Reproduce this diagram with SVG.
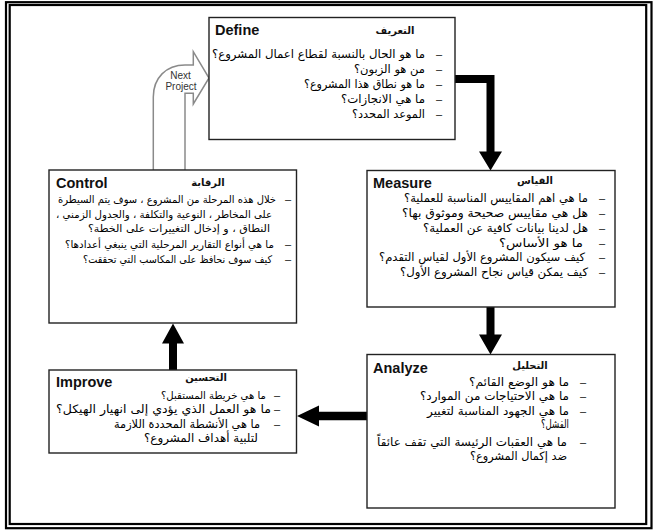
<svg xmlns="http://www.w3.org/2000/svg" width="655" height="532" viewBox="0 0 655 532">
<style>
.frame{fill:none;stroke:#000;stroke-width:2.2}
.box{fill:#fff;stroke:#222;stroke-width:1.4}
.en{font-family:"Liberation Sans",Arial,sans-serif;font-weight:bold;font-size:14.5px;fill:#111}
.ar{font-family:"DejaVu Sans",sans-serif;font-size:11.5px;text-anchor:end;fill:#000}
.arc{font-family:"DejaVu Sans",sans-serif;font-size:10.4px;text-anchor:end;fill:#000}
.art{font-family:"DejaVu Sans",sans-serif;font-size:10px;font-weight:bold;text-anchor:middle;fill:#111}
.dash{font-family:"Liberation Sans",Arial,sans-serif;font-size:11px;text-anchor:middle;fill:#111}
.thick{fill:#000;stroke:none}
.np{fill:#fff;stroke:#8a8a8a;stroke-width:1.5}
.npt{font-family:"Liberation Sans",Arial,sans-serif;font-size:10px;text-anchor:middle;fill:#333}
</style>
<rect width="655" height="532" fill="#fff"/>
<rect class="frame" x="6" y="2.2" width="645.5" height="526"/>
<rect class="frame" x="9.7" y="5" width="636.5" height="519"/>

<g id="next-project">
<path class="np" d="M153.3,170.5 L153.3,97 C153.3,78 166,65 185,65 L193.3,65 L193.3,51.7 L209,78 L193.3,104 L193.3,93.3 L185,93.3 L185,170.5 Z"/>
<text class="npt" x="180.5" y="79">Next</text>
<text class="npt" x="181" y="90">Project</text>
</g>

<g id="connectors">
<polygon class="thick" points="455,75 494.5,75 494.5,151.5 502,151.5 490.5,170.5 479,151.5 486.5,151.5 486.5,83 455,83"/>
<polygon class="thick" points="486.5,307 494.5,307 494.5,334.5 502,334.5 490.5,354.5 479,334.5 486.5,334.5"/>
<polygon class="thick" points="367,411.7 319,411.7 319,405.5 297,416 319,426.5 319,420.3 367,420.3"/>
<polygon class="thick" points="169,370 177,370 177,343.5 184,343.5 173,323.5 162,343.5 169,343.5"/>
</g>

<g id="define">
<rect class="box" x="209" y="17.5" width="246" height="122"/>
<text class="en" x="215" y="35">Define</text>
<text class="art" x="395" y="34">التعريف&#x200F;</text>
<text class="dash" x="439" y="58">–</text><text class="ar" x="425" y="58" textLength="213" lengthAdjust="spacingAndGlyphs">ما هو الحال بالنسبة لقطاع اعمال المشروع؟&#x200F;</text>
<text class="dash" x="439" y="73">–</text><text class="ar" x="425" y="73" textLength="71" lengthAdjust="spacingAndGlyphs">من هو الزبون؟&#x200F;</text>
<text class="dash" x="439" y="88">–</text><text class="ar" x="425" y="88" textLength="121" lengthAdjust="spacingAndGlyphs">ما هو نطاق هذا المشروع؟&#x200F;</text>
<text class="dash" x="439" y="103">–</text><text class="ar" x="425" y="103" textLength="84" lengthAdjust="spacingAndGlyphs">ما هي الانجازات؟&#x200F;</text>
<text class="dash" x="439" y="118">–</text><text class="ar" x="425" y="118" textLength="73" lengthAdjust="spacingAndGlyphs">الموعد المحدد؟&#x200F;</text>
</g>

<g id="measure">
<rect class="box" x="367" y="170.5" width="248" height="136.5"/>
<text class="en" x="373" y="188">Measure</text>
<text class="art" x="535" y="184">القياس&#x200F;</text>
<text class="dash" x="602" y="202">–</text><text class="ar" x="588" y="202" textLength="184" lengthAdjust="spacingAndGlyphs">ما هي اهم المقاييس المناسبة للعملية؟&#x200F;</text>
<text class="dash" x="602" y="217">–</text><text class="ar" x="588" y="217" textLength="186" lengthAdjust="spacingAndGlyphs">هل هي مقاييس صحيحة وموثوق بها؟&#x200F;</text>
<text class="dash" x="602" y="232">–</text><text class="ar" x="588" y="232" textLength="165" lengthAdjust="spacingAndGlyphs">هل لدينا بيانات كافية عن العملية؟&#x200F;</text>
<text class="dash" x="602" y="247">–</text><text class="ar" x="583" y="247" textLength="84" lengthAdjust="spacingAndGlyphs">ما هو الأساس؟&#x200F;</text>
<text class="dash" x="602" y="261">–</text><text class="ar" x="585" y="261" textLength="206" lengthAdjust="spacingAndGlyphs">كيف سيكون المشروع الأول لقياس التقدم؟&#x200F;</text>
<text class="dash" x="602" y="276">–</text><text class="ar" x="588" y="276" textLength="188" lengthAdjust="spacingAndGlyphs">كيف يمكن قياس نجاح المشروع الأول؟&#x200F;</text>
</g>

<g id="analyze">
<rect class="box" x="367" y="354.5" width="248" height="153.5"/>
<text class="en" x="373" y="373">Analyze</text>
<text class="art" x="530" y="369">التحليل&#x200F;</text>
<text class="dash" x="583" y="386">–</text><text class="ar" x="569" y="386" textLength="100" lengthAdjust="spacingAndGlyphs">ما هو الوضع القائم؟&#x200F;</text>
<text class="dash" x="583" y="400">–</text><text class="ar" x="569" y="400" textLength="149" lengthAdjust="spacingAndGlyphs">ما هي الاحتياجات من الموارد؟&#x200F;</text>
<text class="dash" x="583" y="415">–</text><text class="ar" x="569" y="415" textLength="142" lengthAdjust="spacingAndGlyphs">ما هي الجهود المناسبة لتغيير&#x200F;</text>
<text class="ar" x="569" y="428" textLength="28" lengthAdjust="spacingAndGlyphs">الفشل؟&#x200F;</text>
<text class="dash" x="583" y="446">–</text><text class="ar" x="567" y="446" textLength="190" lengthAdjust="spacingAndGlyphs">ما هي العقبات الرئيسة التي تقف عائقاً&#x200F;</text>
<text class="ar" x="567" y="460" textLength="97" lengthAdjust="spacingAndGlyphs">ضد إكمال المشروع؟&#x200F;</text>
</g>

<g id="improve">
<rect class="box" x="49" y="370" width="247.5" height="83"/>
<text class="en" x="56" y="387">Improve</text>
<text class="art" x="206" y="381">التحسين&#x200F;</text>
<text class="dash" x="277" y="398.5">–</text><text class="arc" x="266" y="398.5" textLength="105" lengthAdjust="spacingAndGlyphs">ما هي خريطة المستقبل؟&#x200F;</text>
<text class="dash" x="277" y="413">–</text><text class="ar" x="271" y="413" textLength="215" lengthAdjust="spacingAndGlyphs">ما هو العمل الذي يؤدي إلى انهيار الهيكل؟&#x200F;</text>
<text class="dash" x="277" y="427.5">–</text><text class="ar" x="260" y="427.5" textLength="146" lengthAdjust="spacingAndGlyphs">ما هي الأنشطة المحددة اللازمة&#x200F;</text>
<text class="ar" x="258" y="441.5" textLength="114" lengthAdjust="spacingAndGlyphs">لتلبية أهداف المشروع؟&#x200F;</text>
</g>

<g id="control">
<rect class="box" x="49" y="170" width="247.5" height="153"/>
<text class="en" x="56" y="188">Control</text>
<text class="art" x="208" y="186">الرقابة&#x200F;</text>
<text class="dash" x="288" y="202.5">–</text><text class="arc" x="276" y="202.5" textLength="218" lengthAdjust="spacingAndGlyphs">خلال هذه المرحلة من المشروع ، سوف يتم السيطرة&#x200F;</text>
<text class="arc" x="272" y="218" textLength="216" lengthAdjust="spacingAndGlyphs">على المخاطر ، النوعية والتكلفة ، والجدول الزمني ،&#x200F;</text>
<text class="arc" x="270" y="232" textLength="182" lengthAdjust="spacingAndGlyphs">النطاق ، و إدخال التغييرات على الخطة؟&#x200F;</text>
<text class="dash" x="288" y="247.5">–</text><text class="arc" x="274" y="247.5" textLength="209" lengthAdjust="spacingAndGlyphs">ما هي أنواع التقارير المرحلية التي ينبغي أعدادها؟&#x200F;</text>
<text class="dash" x="288" y="262.5">–</text><text class="arc" x="272" y="262.5" textLength="189" lengthAdjust="spacingAndGlyphs">كيف سوف نحافظ على المكاسب التي تحققت؟&#x200F;</text>
</g>
</svg>
